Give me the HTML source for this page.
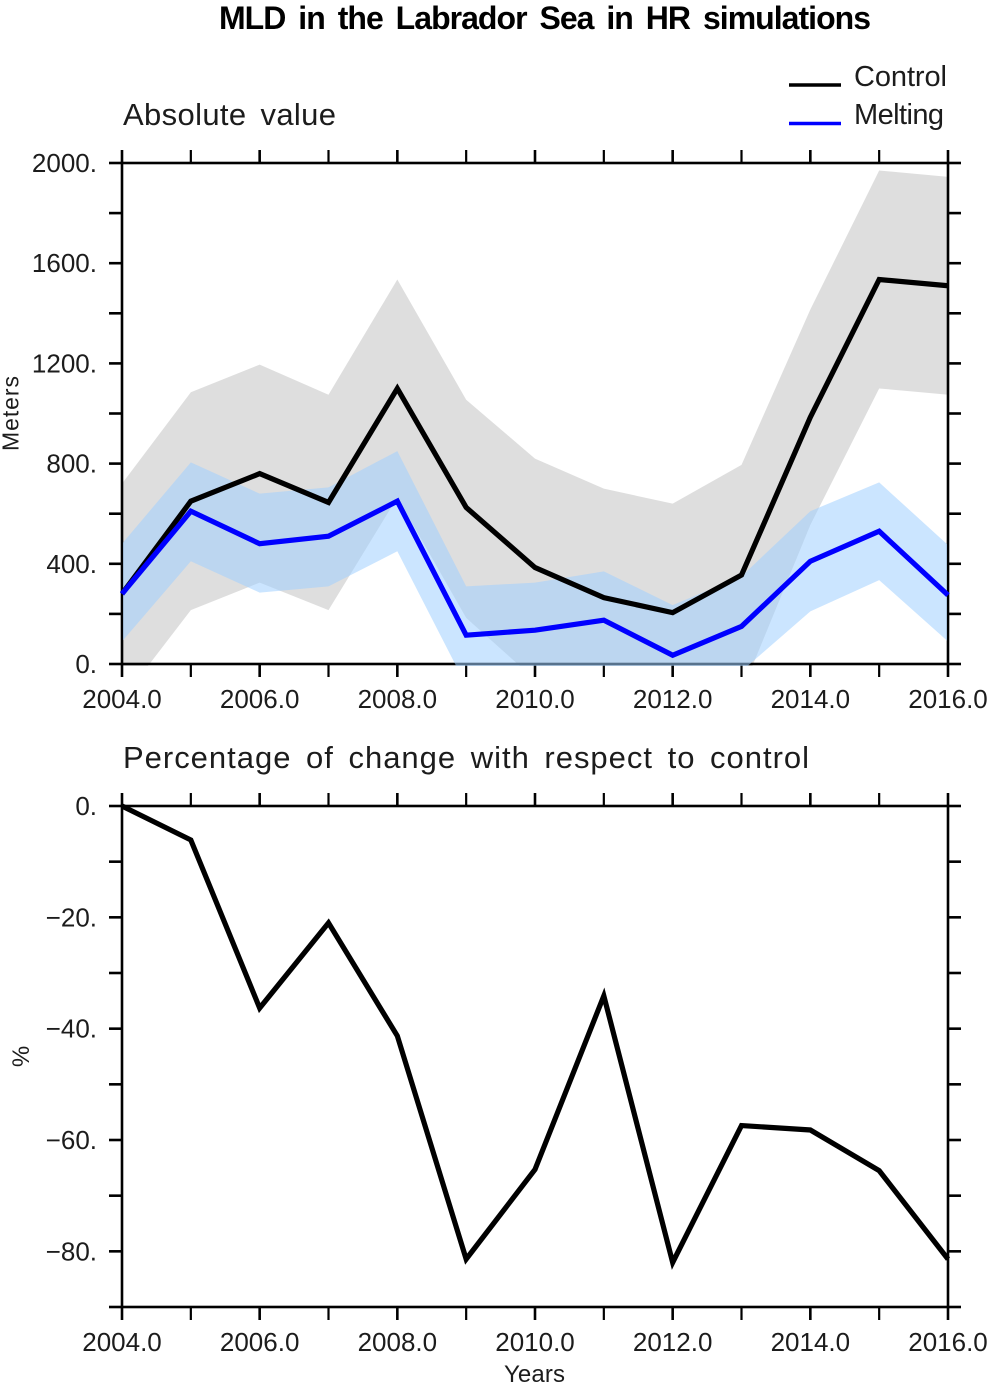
<!DOCTYPE html>
<html lang="en">
<head>
<meta charset="utf-8">
<title>MLD in the Labrador Sea in HR simulations</title>
<style>
html,body{margin:0;padding:0;background:#fff;}
svg{display:block;}
text{font-family:"Liberation Sans",sans-serif;fill:#1c1c1c;}
.tick-label{font-size:26px;}
.sub{font-size:31px;word-spacing:5px;}
</style>
</head>
<body>
<svg id="chart" xmlns="http://www.w3.org/2000/svg" width="992" height="1389" viewBox="0 0 992 1389">
<defs>
<clipPath id="top-clip"><rect x="123" y="163" width="824" height="503"/></clipPath>
</defs>
<text x="219" y="29" font-size="32" font-weight="700" textLength="652" lengthAdjust="spacing" style="fill:#000;word-spacing:5px">MLD in the Labrador Sea in HR simulations</text>
<text class="sub" x="123" y="125" textLength="213" lengthAdjust="spacing">Absolute value</text>
<text class="sub" x="123" y="768" textLength="686" lengthAdjust="spacing">Percentage of change with respect to control</text>
<g>
<line x1="789" x2="841" y1="85" y2="85" stroke="#000" stroke-width="3.4"/>
<text x="854" y="86" font-size="29" textLength="93" lengthAdjust="spacing">Control</text>
<line x1="789" x2="841" y1="123.5" y2="123.5" stroke="#0000ff" stroke-width="3.4"/>
<text x="854" y="124" font-size="29" textLength="90" lengthAdjust="spacing">Melting</text>
</g>
<text transform="translate(18.5,413.5) rotate(-90)" text-anchor="middle" font-size="23" textLength="75" lengthAdjust="spacing">Meters</text>
<text transform="translate(29,1056.5) rotate(-90)" text-anchor="middle" font-size="24">%</text>
<text x="504" y="1382" font-size="24" textLength="61" lengthAdjust="spacing">Years</text>
<g id="plots"></g>
</svg>
<script>
var years = [2004,2005,2006,2007,2008,2009,2010,2011,2012,2013,2014,2015,2016];
var controlValues = [280,650,760,645,1100,625,385,265,205,355,985,1535,1510];
var meltingValues = [280,610,480,510,650,115,135,175,35,150,410,530,275];
var controlUpper = [720,1085,1195,1075,1535,1055,820,700,640,795,1415,1970,1945];
var controlLower = [-143,215,325,215,665,184,-62,-170,-230,-114,555,1100,1075];
var meltingUpper = [480,805,680,705,850,310,325,370,235,350,610,725,475];
var meltingLower = [90,410,285,310,450,-86,-60,-100,-165,-29,210,335,90];
var percentChange = [0,-6.1,-36.3,-21,-41.3,-81.4,-65.3,-34.1,-82,-57.4,-58.2,-65.5,-81.4];
var xTickValues = [2004,2005,2006,2007,2008,2009,2010,2011,2012,2013,2014,2015,2016];
var xTickLabels = ["2004.0","","2006.0","","2008.0","","2010.0","","2012.0","","2014.0","","2016.0"];
var topYTicks = [0,200,400,600,800,1000,1200,1400,1600,1800,2000];
var topYLabels = ["0.","","400.","","800.","","1200.","","1600.","","2000."];
var bottomYTicks = [0,-10,-20,-30,-40,-50,-60,-70,-80,-90];
var bottomYLabels = ["0.","","\u221220.","","\u221240.","","\u221260.","","\u221280.",""];

var NS = "http://www.w3.org/2000/svg";
var root = document.getElementById("plots");
function xScale(v){ return 122 + (v - 2004) * (826 / 12); }
function topY(v){ return 664 - v * (501 / 2000); }
function bottomYScale(v){ return 806 + (-v) * (501 / 90); }
function make(tag, attrs, parent){
  var el = document.createElementNS(NS, tag);
  for (var k in attrs) el.setAttribute(k, attrs[k]);
  (parent || root).appendChild(el);
  return el;
}
function linePoints(xs, ys, yFn){
  return xs.map(function(x, i){ return xScale(x).toFixed(2) + "," + yFn(ys[i]).toFixed(2); }).join(" ");
}
function bandPoints(xs, up, low, yFn){
  var a = xs.map(function(x, i){ return xScale(x).toFixed(2) + "," + yFn(up[i]).toFixed(2); });
  var b = xs.map(function(x, i){ return xScale(x).toFixed(2) + "," + yFn(low[i]).toFixed(2); }).reverse();
  return a.concat(b).join(" ");
}
function drawAxes(name, yFn, yTicks, yLabels, yTopPx, yBottomPx){
  var g = make("g", {});
  
  
  var frame = make("rect", {x:122, y:yTopPx, width:826, height:yBottomPx - yTopPx, fill:"none", stroke:"#000", "stroke-width":2.6}, g);
  
  
  xTickValues.forEach(function(v, i){
    var x = xScale(v);
    var major = xTickLabels[i] !== "";
    var w = major ? 2.6 : 2.2;
    var t1 = make("line", {x1:x, x2:x, y1:yTopPx - 13, y2:yTopPx, stroke:"#000", "stroke-width":w}, g);
    
    
    var t2 = make("line", {x1:x, x2:x, y1:yBottomPx, y2:yBottomPx + 13, stroke:"#000", "stroke-width":w}, g);
    
    
    if (major) {
      var lab = make("text", {x:x, y:yBottomPx + 44, "text-anchor":"middle", "class":"tick-label"}, g);
      
      
      lab.textContent = xTickLabels[i];
    }
  });
  yTicks.forEach(function(v, i){
    var y = yFn(v);
    var t1 = make("line", {x1:109, x2:122, y1:y, y2:y, stroke:"#000", "stroke-width":2.6}, g);
    
    
    var t2 = make("line", {x1:948, x2:961, y1:y, y2:y, stroke:"#000", "stroke-width":2.6}, g);
    
    
    if (yLabels[i] !== "") {
      var lab = make("text", {x:97, y:y + 9, "text-anchor":"end", "class":"tick-label"}, g);
      
      
      lab.textContent = yLabels[i];
    }
  });
}

drawAxes("top-panel", topY, topYTicks, topYLabels, 163, 664);
drawAxes("bottom-panel", bottomYScale, bottomYTicks, bottomYLabels, 806, 1307);

var grayBand = make("polygon", {points:bandPoints(years, controlUpper, controlLower, topY), fill:"#000", "fill-opacity":0.13, "clip-path":"url(#top-clip)"});


var blueBand = make("polygon", {points:bandPoints(years, meltingUpper, meltingLower, topY), fill:"rgb(160,207,255)", "fill-opacity":0.55, "clip-path":"url(#top-clip)"});


var ctrlLine = make("polyline", {points:linePoints(years, controlValues, topY), fill:"none", stroke:"#000", "stroke-width":5.2, "stroke-linejoin":"miter"});


var meltLine = make("polyline", {points:linePoints(years, meltingValues, topY), fill:"none", stroke:"#0000ff", "stroke-width":5.2, "stroke-linejoin":"miter"});


var pctLine = make("polyline", {points:linePoints(years, percentChange, bottomYScale), fill:"none", stroke:"#000", "stroke-width":5.2, "stroke-linejoin":"miter"});


</script>
</body>
</html>
